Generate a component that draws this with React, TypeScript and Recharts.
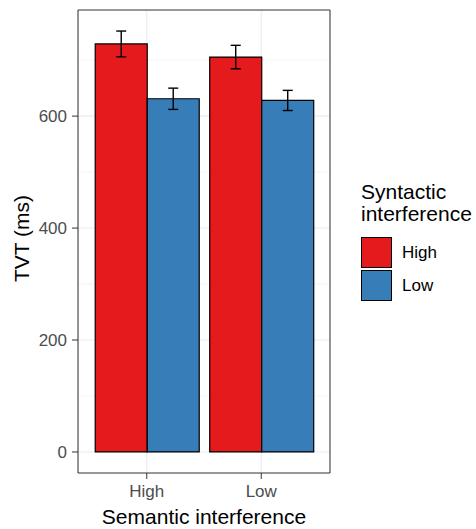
import { BarChart, Bar, XAxis, YAxis, CartesianGrid, ErrorBar, Legend } from 'recharts'

const categories = ['High', 'Low']
const syntHigh = [729, 705.5]
const syntHighErr = [23, 21]
const syntLow = [631, 628]
const syntLowErr = [19, 18]
const yTicks = [0, 200, 400, 600]
const yMinor = [100, 300, 500, 700]

const RED = '#E41A1C'
const BLUE = '#377EB8'
const FONT = '"Liberation Sans", Arial, sans-serif'

const data = categories.map((c, i) => ({
  sem: c,
  high: syntHigh[i],
  highErr: syntHighErr[i],
  low: syntLow[i],
  lowErr: syntLowErr[i],
}))

// ggplot-style 5% expansion around [0, max of error bars]
const yMax = Math.max(
  ...syntHigh.map((v, i) => v + syntHighErr[i]),
  ...syntLow.map((v, i) => v + syntLowErr[i]),
)
const yPad = yMax * 0.05
const yDomain = [-yPad, yMax + yPad]

function LegendBox({ payload }: any) {
  return (
    <div style={{ fontFamily: FONT, color: '#000' }}>
      <div style={{ fontSize: 21, lineHeight: '22px' }}>
        Syntactic
        <br />
        interference
      </div>
      <div style={{ marginTop: 11 }}>
        {(payload || []).map((p: any) => (
          <div key={p.value} style={{ display: 'flex', alignItems: 'center', height: 33 }}>
            <span
              style={{
                width: 29,
                height: 29,
                background: p.color,
                border: '1.3px solid #000',
                boxSizing: 'content-box',
              }}
            />
            <span style={{ marginLeft: 10, fontSize: 17 }}>{p.value}</span>
          </div>
        ))}
      </div>
    </div>
  )
}

export default function App() {
  return (
    <div style={{ position: 'absolute', left: 0, top: 0, width: 476, height: 529, background: '#fff' }}>
      <BarChart
        width={476}
        height={529}
        data={data}
        margin={{ top: 9, right: 145, bottom: 0, left: 0 }}
        barCategoryGap="5%"
        barGap={0}
      >
        {/* minor grid first, then major grid */}
        <CartesianGrid stroke="#ebebeb" strokeWidth={0.6} vertical={false} horizontalValues={yMinor} />
        <CartesianGrid stroke="#ebebeb" strokeWidth={1.1} horizontalValues={yTicks} />
        <XAxis
          dataKey="sem"
          height={56}
          padding={{ left: 11.5, right: 11.5 }}
          tickSize={6}
          tickMargin={6}
          tick={{ fontSize: 17, fill: '#4d4d4d', fontFamily: FONT }}
          tickLine={{ stroke: '#333' }}
          axisLine={{ stroke: '#333' }}
          label={(props: any) => {
            const vb = props.viewBox
            return (
              <text x={vb.x + vb.width / 2} y={vb.y + 51} textAnchor="middle" fontSize={21} fontFamily={FONT} fill="#000">
                Semantic interference
              </text>
            )
          }}
        />
        <XAxis xAxisId="top" dataKey="sem" orientation="top" height={1} tick={false} tickLine={false} axisLine={{ stroke: '#333' }} />
        <YAxis
          width={78}
          domain={yDomain}
          ticks={yTicks}
          allowDataOverflow
          tickSize={6}
          tickMargin={5}
          tick={{ fontSize: 17, fill: '#4d4d4d', fontFamily: FONT }}
          tickLine={{ stroke: '#333' }}
          axisLine={{ stroke: '#333' }}
          label={(props: any) => {
            const vb = props.viewBox
            const cy = vb.y + vb.height / 2 - 3
            return (
              <text x={29} y={cy} transform={`rotate(-90, 29, ${cy})`} textAnchor="middle" fontSize={21} fontFamily={FONT} fill="#000">
                TVT (ms)
              </text>
            )
          }}
        />
        <YAxis yAxisId="right" orientation="right" width={1} domain={yDomain} allowDataOverflow tick={false} tickLine={false} axisLine={{ stroke: '#333' }} />
        <Legend
          layout="vertical"
          align="center"
          verticalAlign="middle"
          content={<LegendBox />}
          wrapperStyle={{ left: 361, top: 181, width: 115 }}
        />
        <Bar dataKey="high" name="High" fill={RED} stroke="#000" strokeWidth={1.2} isAnimationActive={false}>
          <ErrorBar dataKey="highErr" width={5} stroke="#000" strokeWidth={1.4} isAnimationActive={false} />
        </Bar>
        <Bar dataKey="low" name="Low" fill={BLUE} stroke="#000" strokeWidth={1.2} isAnimationActive={false}>
          <ErrorBar dataKey="lowErr" width={5} stroke="#000" strokeWidth={1.4} isAnimationActive={false} />
        </Bar>
      </BarChart>
    </div>
  )
}
